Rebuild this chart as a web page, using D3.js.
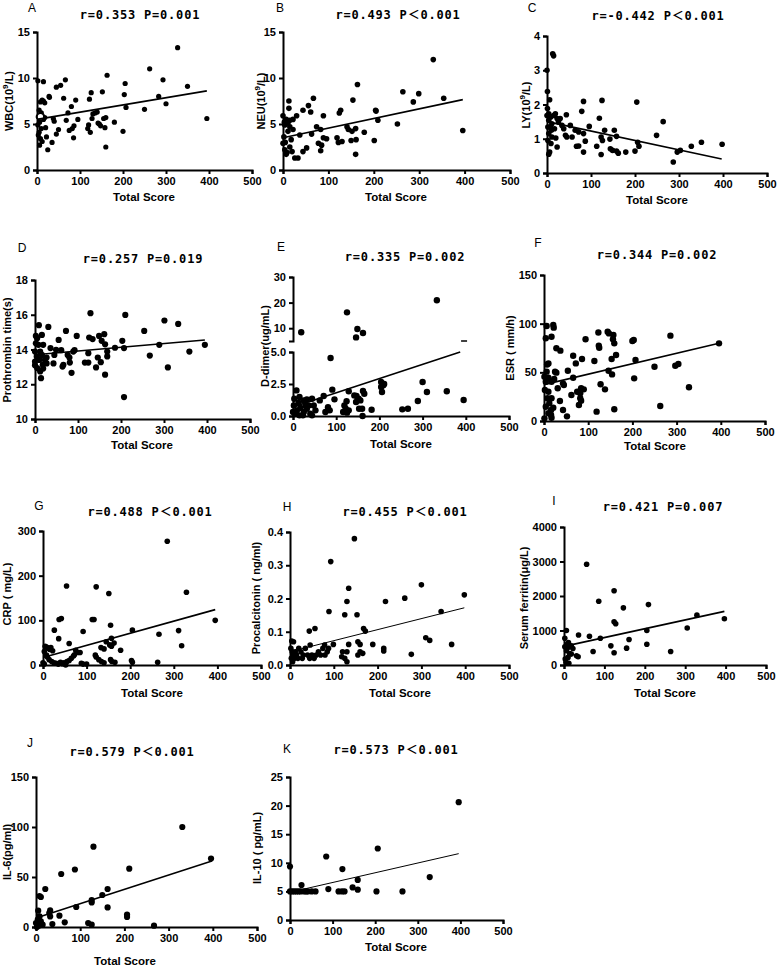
<!DOCTYPE html>
<html><head><meta charset="utf-8">
<script src="https://cdn.jsdelivr.net/npm/d3@7"></script>
<style>
body{margin:0;background:#fff;}
svg{display:block;background:#fff;}
.tick text{font-family:Arial,"Liberation Sans",sans-serif;font-weight:bold;font-size:11px;fill:#000;}
.axis path,.axis line{stroke:#000;stroke-width:2px;}
</style></head><body>
<svg id="c" width="778" height="970"></svg>
<script>
// ---------- DATA ----------
const xTicks = [0,100,200,300,400,500];
const letters = ["A","B","C","D","E","F","G","H","I","J","K"];
const titles = ["r=0.353 P=0.001","r=0.493 P＜0.001","r=-0.442 P＜0.001","r=0.257 P=0.019","r=0.335 P=0.002","r=0.344 P=0.002","r=0.488 P＜0.001","r=0.455 P＜0.001","r=0.421 P=0.007","r=0.579 P＜0.001","r=0.573 P＜0.001"];
const yLabels = ["WBC(10^{9}/L)","NEU(10^{9}/L)","LY(10^{9}/L)","Prothrombin time(s)","D-dimer(ug/mL)","ESR ( mm/h)","CRP ( mg/L)","Procalcitonin ( ng/ml)","Serum ferritin(μg/L)","IL-6(pg/ml)","IL-10 ( pg/mL)"];
const xLabel = "Total Score";

const yTicksA = [0,5,10,15];
const yTicksB = [0,5,10,15];
const yTicksC = [0,1,2,3,4];
const yTicksD = [10,12,14,16,18];
const yTicksELow = [0,2.5,5];
const yTicksEHigh = [10,20,30];
const yTicksF = [0,50,100,150];
const yTicksG = [0,100,200,300];
const yTicksH = [0,0.1,0.2,0.3,0.4];
const yTicksI = [0,1000,2000,3000,4000];
const yTicksJ = [0,50,100,150];
const yTicksK = [0,5,10,15,20,25];

const dataA = [[2,9.7],[15,9.6],[8,7.4],[12,7.6],[15,7.5],[18,7.3],[5,6.5],[10,6.2],[3,5.8],[12,5.9],[18,5.7],[6,5.2],[2,4.9],[10,4.5],[5,4.1],[3,3.8],[8,3.4],[12,3.1],[6,2.7],[15,5.5],[20,4.6],[22,3.6],[28,8.0],[29,7.9],[25,2.2],[35,3.0],[38,5.6],[40,5.3],[45,9.0],[45,3.9],[50,4.4],[55,9.2],[62,7.8],[66,9.8],[68,5.4],[72,6.2],[75,4.3],[80,6.9],[82,4.5],[85,3.5],[86,4.8],[90,7.6],[95,5.5],[118,4.5],[120,4.9],[122,7.7],[124,4.1],[126,8.4],[128,5.6],[130,6.1],[135,6.2],[140,6.3],[142,5.1],[145,5.0],[148,4.8],[152,8.5],[155,5.6],[158,4.6],[160,2.5],[160,5.7],[163,10.3],[180,5.2],[200,4.2],[203,8.2],[205,9.4],[207,6.8],[250,6.6],[262,11.0],[283,8.0],[293,9.8],[300,7.2],[327,13.3],[350,9.1],[395,5.6]];
const openA = [[8,5.8]];
const lineA = [[0,5.5],[395,8.6]];

const dataB = [[331,12.0],[164,9.3],[264,8.5],[299,8.3],[354,7.8],[287,7.4],[154,7.6],[67,7.8],[13,7.5],[56,7.0],[44,6.5],[61,6.3],[13,6.7],[127,6.5],[124,6.2],[204,6.5],[205,6.4],[30,5.9],[89,5.9],[0,5.9],[7,5.5],[15,5.4],[22,5.5],[209,5.4],[252,5.0],[396,4.3],[74,4.7],[83,4.4],[141,4.7],[144,4.4],[152,4.2],[160,4.5],[179,4.1],[37,3.8],[63,3.9],[89,3.5],[96,3.4],[119,3.5],[122,3.0],[130,3.1],[150,3.2],[161,3.3],[201,3.2],[78,2.9],[85,2.7],[83,2.1],[44,2.0],[52,2.4],[160,1.7],[26,1.3],[33,1.3],[0,2.9],[4,2.2],[7,1.7],[15,2.5],[18,3.3],[2,3.6],[11,4.2],[22,4.4],[15,4.7],[4,4.9],[11,5.1],[20,2.0],[5,3.0],[9,1.9],[3,5.2]];
const lineB = [[0,3.5],[396,7.65]];

const dataC = [[13,3.48],[15,3.42],[0,3.0],[1,2.38],[6,2.14],[83,2.09],[125,2.12],[204,2.07],[1,1.88],[79,1.8],[44,1.7],[119,1.6],[264,1.5],[53,1.39],[96,1.36],[131,1.25],[153,1.25],[64,1.25],[72,1.2],[42,1.1],[45,1.05],[57,1.05],[83,1.15],[123,1.05],[126,0.95],[158,1.07],[143,0.99],[249,1.1],[206,0.9],[209,0.78],[200,0.64],[87,0.93],[83,0.61],[72,0.79],[67,0.78],[113,0.78],[123,0.54],[144,0.71],[149,0.66],[158,0.64],[162,0.58],[179,0.61],[328,0.78],[351,0.9],[398,0.84],[287,0.32],[296,0.61],[303,0.66],[23,0.76],[6,0.61],[4,0.55],[9,0.86],[20,1.02],[4,1.73],[8,1.63],[15,1.68],[19,1.73],[23,1.59],[4,1.54],[11,1.44],[26,1.49],[34,1.39],[2,1.34],[10,1.25],[17,1.29],[4,1.15],[11,1.05],[2,0.95],[38,1.29],[30,1.59],[8,1.35],[0,1.68]];
const lineC = [[0,1.5],[397,0.41]];

const dataD = [[129,16.09],[210,15.99],[301,15.67],[333,15.47],[254,15.07],[9,15.4],[31,15.3],[72,15.07],[126,14.69],[134,14.6],[149,14.78],[161,14.88],[97,14.78],[55,14.55],[203,14.5],[155,14.5],[163,14.3],[289,14.27],[395,14.27],[207,14.08],[36,14.08],[49,13.98],[61,13.96],[89,13.88],[124,13.79],[186,14.1],[168,13.88],[92,13.96],[76,13.69],[80,13.54],[267,13.65],[359,13.88],[168,13.6],[146,13.54],[45,13.69],[43,13.2],[81,13.25],[66,13.12],[64,13.02],[116,13.25],[124,13.25],[153,13.27],[142,12.97],[309,12.97],[85,12.66],[163,12.55],[207,11.26],[27,13.2],[19,12.9],[14,12.35],[0,13.1],[2,14.78],[5,14.65],[8,14.27],[0,13.88],[12,13.88],[16,13.69],[4,13.6],[0,13.31],[10,13.4],[5,12.93],[12,12.74],[18,13.12],[23,13.4],[27,13.54],[19,14.27],[2,14.36],[16,14.84]];
const lineD = [[0,13.7],[395,14.55]];

const dataE = [[19,8.4],[125,16.2],[149,9.7],[162,8.1],[146,6.4],[333,20.9],[87,4.53],[204,2.66],[209,2.4],[211,2.5],[204,2.27],[206,1.88],[300,2.66],[310,1.88],[356,1.93],[289,1.17],[395,1.25],[253,0.52],[266,0.57],[182,0.49],[160,0.57],[153,0.57],[162,1.95],[165,1.74],[129,1.93],[142,1.61],[147,1.56],[152,1.35],[156,1.22],[146,1.09],[124,1.15],[119,0.83],[122,0.57],[129,0.44],[116,0.31],[125,0.26],[161,0.0],[91,2.06],[96,1.3],[71,1.56],[62,1.22],[44,1.35],[48,0.83],[52,0.44],[81,0.68],[85,0.44],[75,0.31],[8,2.0],[3,1.35],[15,1.48],[25,1.22],[32,1.3],[2,0.83],[9,0.44],[17,0.63],[25,0.31],[32,0.57],[40,0.18],[5,0.18],[15,0.05],[29,0.83],[36,0.83],[23,0.05],[44,0.05],[0,0.31],[13,1.04]];
const lineE = [[0,0.7],[387,5.0]];

const dataF = [[6,97.6],[21,98.6],[22,95.9],[17,86.6],[4,85],[7,58],[10,59],[28,74.7],[37,72.3],[94,84],[123,91],[144,91.8],[147,90],[157,88.4],[159,79.8],[156,84],[124,77.4],[125,75.3],[163,67.8],[153,63.7],[200,82.2],[203,83.2],[286,87.7],[396,79.8],[207,62.7],[66,67.1],[86,63.7],[72,59.2],[114,61.6],[250,55.8],[297,56.8],[304,58.6],[54,51.7],[28,49.7],[66,44.5],[146,51.7],[154,47.9],[204,43.8],[328,34.6],[128,37.7],[138,32.5],[43,38.7],[31,33.6],[45,37],[75,30.1],[82,28.4],[84,33.6],[90,32.5],[62,26.7],[82,23.3],[84,20.9],[79,16.4],[36,20.5],[263,15.4],[159,12],[119,9.6],[43,11.3],[52,4.8],[17,3.4],[1,2.7],[6,50.7],[10,44.5],[4,40.4],[17,40.4],[23,43.2],[2,31.8],[10,30.1],[17,23.3],[12,18.2],[4,14.7],[16,11.3],[8,23.3],[21,13.7],[10,7.9],[16,6.2],[25,50.7],[1,45.5]];
const lineF = [[0,37.4],[396,79.8]];

const dataG = [[285,277],[54,177],[122,175],[151,160],[329,163],[37,102],[42,104],[113,102],[117,102],[395,100],[26,78],[92,75],[205,78],[155,89],[266,69],[311,77],[36,59],[157,60],[60,48],[145,52],[163,49],[318,43],[153,45],[157,42],[75,33],[80,28],[140,36],[133,39],[178,33],[5,42],[8,40],[12,38],[15,35],[18,39],[22,32],[3,30],[8,22],[10,18],[14,12],[20,8],[25,5],[30,4],[40,6],[48,5],[55,8],[60,10],[65,15],[70,20],[72,23],[85,28],[88,4],[92,2],[120,22],[122,18],[128,12],[134,8],[140,5],[155,12],[158,8],[165,6],[203,10],[205,6],[263,6],[35,2],[45,3],[0,5],[3,2],[100,2],[52,0]];
const lineG = [[0,17],[395,124]];

const dataH = [[147,0.38],[93,0.311],[134,0.231],[130,0.191],[218,0.191],[262,0.201],[300,0.241],[398,0.211],[89,0.161],[125,0.151],[153,0.151],[345,0.161],[44,0.102],[57,0.11],[168,0.11],[172,0.102],[4,0.072],[8,0.07],[46,0.06],[79,0.06],[99,0.062],[88,0.05],[134,0.062],[155,0.07],[160,0.062],[189,0.062],[214,0.05],[214,0.042],[310,0.082],[319,0.074],[369,0.062],[277,0.032],[166,0.035],[118,0.025],[130,0.04],[2,0.05],[5,0.04],[8,0.03],[10,0.02],[12,0.04],[15,0.03],[18,0.02],[20,0.05],[25,0.04],[28,0.02],[30,0.03],[35,0.05],[40,0.03],[45,0.02],[50,0.03],[55,0.02],[60,0.03],[65,0.04],[70,0.03],[75,0.05],[80,0.03],[85,0.04],[3,0.02],[6,0.01],[125,0.02],[130,0.01],[120,0.04],[160,0.04],[155,0.03]];
const lineH = [[0,0.04],[398,0.172]];

const dataI = [[56,2919],[124,2153],[86,1847],[147,1656],[209,1751],[124,1254],[128,1196],[329,1445],[397,1340],[305,1072],[205,1000],[6,1000],[36,871],[63,833],[90,775],[2,775],[161,737],[205,603],[116,555],[155,488],[264,392],[72,392],[124,354],[31,268],[35,239],[2,526],[10,507],[18,555],[6,411],[14,335],[10,220],[3,172],[18,316],[8,603],[11,651],[22,478],[5,80],[12,50]];
const lineI = [[0,540],[397,1555]];

const dataJ = [[331,100],[396,68.5],[130,80.3],[88,57.5],[57,53],[211,58.3],[21,38],[8,31],[11,30],[162,38],[150,32],[126,27],[126,24.6],[32,16.6],[30,14],[5,16.3],[91,20],[162,19.6],[206,12.3],[206,10],[53,11.3],[32,10.6],[8,10.6],[65,4.7],[37,3],[118,4],[126,2.3],[267,1.3],[0,4],[4,7.3],[11,5.6],[15,2.3],[6,1.3],[2,0]];
const lineJ = [[0,9],[398,66]];

const dataK = [[396,20.6],[206,12.5],[85,11.1],[123,8.9],[0,9.35],[328,7.5],[159,7.0],[147,5.7],[159,5.3],[90,5.4],[27,6.1],[203,5.0],[264,5.0],[114,5.0],[122,5.0],[128,5.0],[51,5.0],[60,5.0],[0,5.0],[5,5.0],[10,5.0],[15,5.0],[20,5.0],[25,5.0],[33,5.0],[38,5.0],[42,5.0]];
const lineK = [[0,4.85],[396,11.6]];

// ---------- LAYOUT (positions / sizes) ----------
const layout = {
 A:{x0:37,x1:252,yT:32,yB:170, lx:32,ly:9, tx:140,ty:15, ylx:10,yly:101, xlx:144,xly:198, r:2.6, lw:1.6},
 B:{x0:283,x1:510,yT:32,yB:170, lx:280,ly:9, tx:398,ty:15, ylx:262,yly:101, xlx:396,xly:198, r:2.8, lw:1.6},
 C:{x0:547,x1:767,yT:36,yB:173, lx:532,ly:9, tx:658,ty:16, ylx:527,yly:105, xlx:657,xly:201, r:2.8, lw:1.6},
 D:{x0:35,x1:250,yT:280,yB:419, lx:22,ly:249, tx:143,ty:259, ylx:8,yly:350, xlx:142,xly:446, r:3.1, lw:1.6},
 E:{x0:293,x1:509,yT:277,yB:416, lx:281,ly:248, tx:405,ty:257, ylx:266,yly:346, xlx:401,xly:445, r:3.2, lw:1.6},
 F:{x0:544,x1:765,yT:275,yB:421, lx:538,ly:244, tx:657,ty:255, ylx:511,yly:348, xlx:655,xly:447, r:3.2, lw:1.6},
 G:{x0:43,x1:261,yT:531,yB:665, lx:39,ly:507, tx:150,ty:512, ylx:8,yly:594, xlx:152,xly:694, r:2.8, lw:1.6},
 H:{x0:290,x1:509,yT:532,yB:665, lx:287,ly:508, tx:405,ty:512, ylx:257,yly:598, xlx:400,xly:694, r:2.8, lw:1},
 I:{x0:564,x1:766,yT:527,yB:665, lx:554,ly:502, tx:663,ty:507, ylx:525,yly:598, xlx:665,xly:694, r:2.8, lw:1.6},
 J:{x0:36,x1:257,yT:777,yB:927, lx:30,ly:744, tx:132,ty:752, ylx:8,yly:852, xlx:125,xly:962, r:3.1, lw:1.6},
 K:{x0:290,x1:503,yT:777,yB:920, lx:287,ly:750, tx:396,ty:750, ylx:258,yly:848, xlx:396,xly:948, r:3.1, lw:1}
};

// ---------- BUILD ----------
const panels = [
 {data:dataA,line:lineA,yDom:[0,15],yTicks:yTicksA,open:openA},
 {data:dataB,line:lineB,yDom:[0,15],yTicks:yTicksB},
 {data:dataC,line:lineC,yDom:[0,4],yTicks:yTicksC},
 {data:dataD,line:lineD,yDom:[10,18],yTicks:yTicksD},
 {data:dataE,line:lineE,broken:true,breakX:396},
 {data:dataF,line:lineF,yDom:[0,150],yTicks:yTicksF},
 {data:dataG,line:lineG,yDom:[0,300],yTicks:yTicksG},
 {data:dataH,line:lineH,yDom:[0,0.4],yTicks:yTicksH,fmt:".1f"},
 {data:dataI,line:lineI,yDom:[0,4000],yTicks:yTicksI},
 {data:dataJ,line:lineJ,yDom:[0,150],yTicks:yTicksJ},
 {data:dataK,line:lineK,yDom:[0,25],yTicks:yTicksK}
].map((p,i)=>Object.assign(p,{id:letters[i],title:titles[i],yLabel:yLabels[i]}));

const svg = d3.select("#c");
const sans = 'Arial,"Liberation Sans",sans-serif';

function addLabel(sel, str){
  const parts = str.split(/\^\{([^}]*)\}/);
  parts.forEach((s,k)=>{
    if(!s) return;
    if(k%2===1){
      sel.append("tspan").attr("dy",-4).attr("font-size","8px").text(s);
    } else {
      const t = sel.append("tspan").text(s);
      if(k>0) t.attr("dy",4);
    }
  });
}

panels.forEach(p=>{
  const L = layout[p.id];
  const g = svg.append("g");
  const x = d3.scaleLinear().domain([0,500]).range([L.x0,L.x1]);
  let yf;
  if(p.broken){
    const yLow = d3.scaleLinear().domain([0,5]).range([L.yB, L.yB-64]);
    const yHigh = d3.scaleLinear().domain([5,30]).range([L.yB-75, L.yT]);
    yf = v => v>5 ? yHigh(v) : yLow(v);
    g.append("g").attr("class","axis").attr("transform",`translate(${L.x0},0)`)
      .call(d3.axisLeft(yLow).tickValues(yTicksELow).tickFormat(d3.format(".1f")).tickSize(4).tickSizeOuter(4));
    g.append("g").attr("class","axis").attr("transform",`translate(${L.x0},0)`)
      .call(d3.axisLeft(yHigh).tickValues(yTicksEHigh).tickFormat(d3.format("d")).tickSize(4).tickSizeOuter(4));
    g.append("line").attr("x1",x(p.breakX)-3).attr("x2",x(p.breakX)+3)
      .attr("y1",L.yB-75).attr("y2",L.yB-75).attr("stroke","#000").attr("stroke-width",1.5);
  } else {
    const y = d3.scaleLinear().domain(p.yDom).range([L.yB,L.yT]);
    yf = y;
    g.append("g").attr("class","axis").attr("transform",`translate(${L.x0},0)`)
      .call(d3.axisLeft(y).tickValues(p.yTicks).tickFormat(p.fmt?d3.format(p.fmt):d3.format("d")).tickSize(4).tickSizeOuter(4));
  }
  g.append("g").attr("class","axis").attr("transform",`translate(0,${L.yB})`)
    .call(d3.axisBottom(x).tickValues(xTicks).tickFormat(d3.format("d")).tickSize(4).tickSizeOuter(4));

  g.append("g").selectAll("circle").data(p.data).join("circle")
    .attr("cx",d=>x(d[0])).attr("cy",d=>yf(d[1])).attr("r",L.r).attr("fill","#000");
  if(p.open){
    g.append("g").selectAll("circle").data(p.open).join("circle")
      .attr("cx",d=>x(d[0])).attr("cy",d=>yf(d[1])).attr("r",L.r+0.8)
      .attr("fill","#fff").attr("stroke","#000").attr("stroke-width",1.6);
  }
  g.append("line")
    .attr("x1",x(p.line[0][0])).attr("y1",yf(p.line[0][1]))
    .attr("x2",x(p.line[1][0])).attr("y2",yf(p.line[1][1]))
    .attr("stroke","#000").attr("stroke-width",L.lw);

  g.append("text").attr("x",L.lx).attr("y",L.ly).attr("dominant-baseline","middle")
    .attr("text-anchor","middle").attr("font-family",sans).attr("font-size","12px").text(p.id);
  g.append("text").attr("x",L.tx).attr("y",L.ty).attr("dominant-baseline","middle")
    .attr("text-anchor","middle").attr("font-family",'"DejaVu Sans Mono","Noto Sans CJK SC",monospace')
    .attr("font-weight","bold").attr("font-size","12px").attr("letter-spacing","0.8px").text(p.title);
  const yl = g.append("text").attr("transform",`translate(${L.ylx},${L.yly}) rotate(-90)`)
    .attr("dominant-baseline","middle").attr("text-anchor","middle")
    .attr("font-family",sans).attr("font-weight","bold").attr("font-size","11px");
  addLabel(yl,p.yLabel);
  g.append("text").attr("x",L.xlx).attr("y",L.xly).attr("dominant-baseline","middle")
    .attr("text-anchor","middle").attr("font-family",sans).attr("font-weight","bold")
    .attr("font-size","11.5px").text(xLabel);
});
</script>
</body></html>
